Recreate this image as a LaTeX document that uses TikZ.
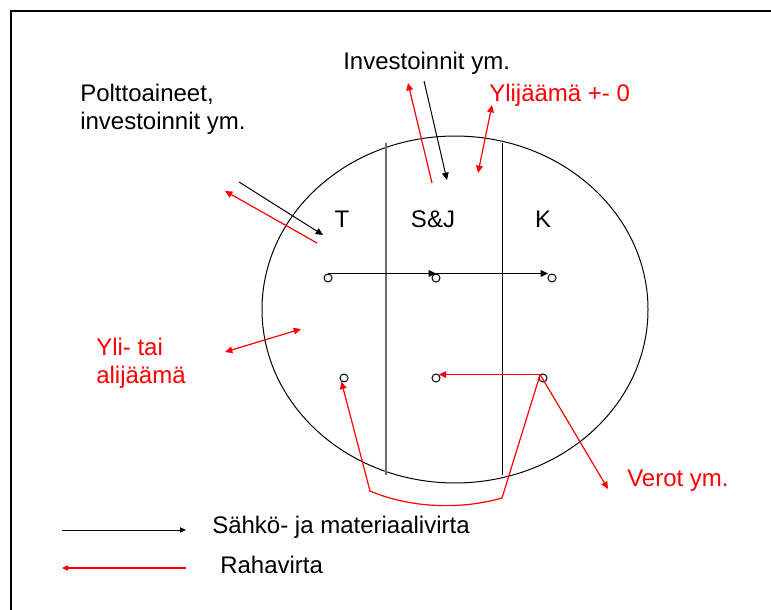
\documentclass[tikz,border=0pt]{standalone}
\usepackage{fontspec}
\setmainfont{Liberation Sans}
\usetikzlibrary{arrows.meta}
\definecolor{moneyred}{RGB}{255,0,0}
\definecolor{walllgray}{RGB}{110,110,110}
\tikzset{
  flow/.style={draw=black,line width=0.75pt,-{Triangle[length=5.5pt,width=5pt]}},
  money/.style={draw=moneyred,line width=0.9pt,-{Triangle[length=5.5pt,width=5pt]}},
  moneyboth/.style={draw=moneyred,line width=0.9pt,
    {Triangle[length=5.5pt,width=5pt]}-{Triangle[length=5.5pt,width=5pt]}},
  keytip/.style={-{Triangle[length=4.5pt,width=4pt]}},
  port/.style={circle,draw,line width=0.75pt,inner sep=0pt,minimum size=6pt},
  lbl/.style={font=\fontsize{18}{21}\selectfont,inner sep=0pt},
}

\begin{document}
\begin{tikzpicture}[x=0.75pt,y=-0.75pt]
        \useasboundingbox (0,0) rectangle (771,610);
        \draw[line width=1.5pt,line join=miter] (11,610) -- (11,11) -- (771,11);

        % plant and its three parts
        \draw[line width=0.75pt] (455,309.5) ellipse [x radius=144.75pt,y radius=130.1pt];
        \draw[walllgray,line width=0.9pt] (386,143) -- (386,475);
        \draw[line width=0.75pt] (502,143) -- (502,475);
        \node[lbl] (T) at (342,219) {T};
        \node[lbl] (SJ) at (433,219) {S\&J};
        \node[lbl] (K) at (543,219) {K};

        \node[port] (c1) at (328,278) {};
        \node[port] (c2) at (436,278) {};
        \node[port] (c3) at (552,278) {};
        \node[port] (d1) at (344,378) {};
        \node[port] (d2) at (436,378) {};
        \node[port] (d3) at (543,378) {};

        \draw[flow] (c1.north) -- (c2.north);
        \draw[flow,shorten >=3pt] (c2.north) -- (c3.north);
        \draw[money] (d3.130) -- (d2.50);
        \coordinate (bendR) at (502,498);
        \coordinate (bendL) at (370,491);
        \draw[money] (d3.130) -- (bendR) .. controls (460,510) and (410,508) .. (bendL) -- (d1.235);

        % outside
        \node[lbl,anchor=west,align=left] (fuel) at (80,109)
          {Polttoaineet,\\investoinnit ym.};
        \coordinate (fuelA) at (239,182);
        \coordinate (fuelB) at (323,235);
        \coordinate (fuelC) at (317,243);
        \coordinate (fuelD) at (225,191);
        \draw[flow] (fuelA) -- (fuelB);
        \draw[money] (fuelC) -- (fuelD);

        \node[lbl,anchor=west] (invest) at (343,63) {Investoinnit ym.};
        \coordinate (invA) at (424,81);
        \coordinate (invB) at (447,180);
        \coordinate (invC) at (432,183);
        \coordinate (invD) at (408,83);
        \draw[flow] (invA) -- (invB);
        \draw[money] (invC) -- (invD);

        \node[lbl,text=moneyred,anchor=west] (surplus) at (489,95) {Ylijäämä +- 0};
        \coordinate (surA) at (478,173);
        \coordinate (surB) at (492,105);
        \draw[moneyboth] (surA) -- (surB);

        \node[lbl,text=moneyred,anchor=west,align=left] (deficit) at (96,363)
          {Yli- tai\\alijäämä};
        \coordinate (defA) at (225,352);
        \coordinate (defB) at (301,329);
        \draw[moneyboth] (defA) -- (defB);

        \node[lbl,text=moneyred,anchor=west] (tax) at (627,481) {Verot ym.};
        \coordinate (taxin) at (608,489);
        \draw[money] (d3.130) -- (taxin);

        % key
        \coordinate (keyA) at (62,530);
        \coordinate (keyB) at (186,530);
        \coordinate (keyC) at (186,568);
        \coordinate (keyD) at (62,568);
        \draw[flow,keytip] (keyA) -- (keyB);
        \draw[money,keytip] (keyC) -- (keyD);
        \node[lbl,anchor=west] (keyflow) at (212,527) {Sähkö- ja materiaalivirta};
        \node[lbl,anchor=west] (keymoney) at (220,565) {Rahavirta};
      \end{tikzpicture}
\end{document}
